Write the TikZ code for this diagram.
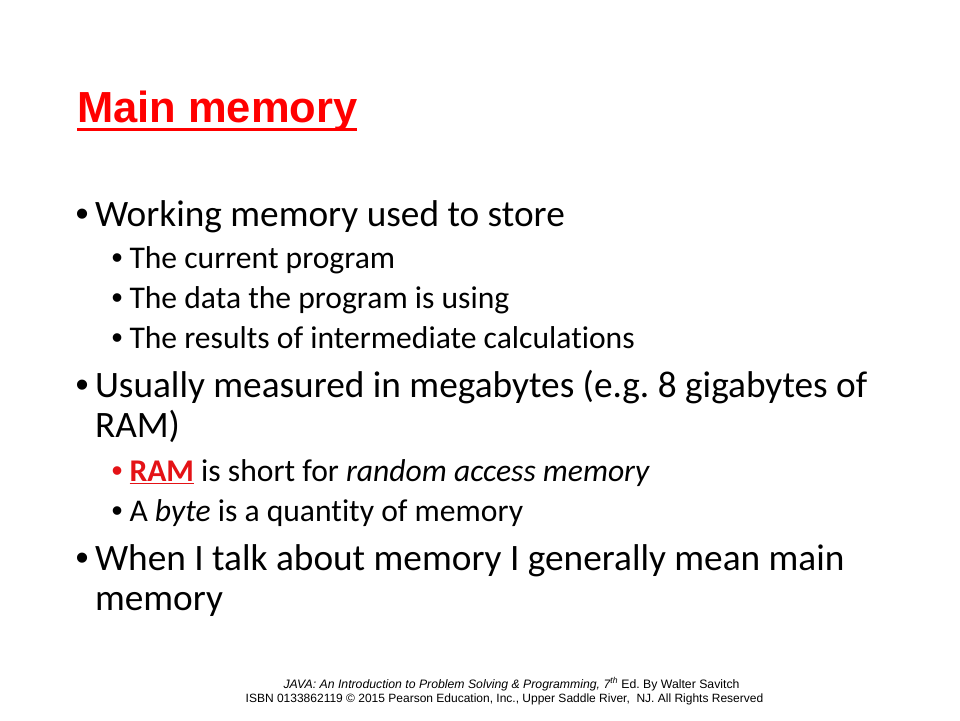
\documentclass[tikz,border=0pt]{standalone}
\usepackage{fontspec}
\setmainfont{Carlito}[Ligatures=NoCommon]
\newfontfamily\arialfont{Liberation Sans}
\definecolor{titlered}{RGB}{255,0,0}
\definecolor{ramred}{RGB}{228,18,22}
\tikzset{
  every node/.style={inner sep=0pt, outer sep=0pt, anchor=base west},
  titletext/.style={font=\arialfont\bfseries\fontsize{43.5}{48}\selectfont, text=titlered},
  lvlone/.style={font=\fontsize{37.3}{40}\selectfont},
  lvltwo/.style={font=\fontsize{31.6}{40}\selectfont},
  bulone/.style={font=\arialfont\fontsize{37.3}{40}\selectfont},
  bultwo/.style={font=\arialfont\fontsize{31.6}{40}\selectfont},
  foot/.style={font=\arialfont\fontsize{12}{14}\selectfont, anchor=base},
}
\begin{document}
\frenchspacing
\begin{tikzpicture}[x=1pt,y=-1pt]
\useasboundingbox[fill=white] (0,0) rectangle (960,720);
% title
\node[titletext] (title) at (77,122.5) {Main memory};
\draw[titlered, line width=3.6pt] ([yshift=-6.8pt]title.base west) -- ([yshift=-6.8pt]title.base east);
% bullets
\node[bulone] (b1) at (75.5,226.5) {•};
\node[lvlone] (t1) at (95,226.5) {Working memory used to store};
\node[bultwo] (b11) at (111.5,268.3) {•};
\node[lvltwo] (t11) at (129.5,268.3) {The current program};
\node[bultwo] (b12) at (111.5,308.3) {•};
\node[lvltwo] (t12) at (129.5,308.3) {The data the program is using};
\node[bultwo] (b13) at (111.5,348.3) {•};
\node[lvltwo] (t13) at (129.5,348.3) {The results of intermediate calculations};
\node[bulone] (b2) at (75.5,397) {•};
\node[lvlone] (t2) at (95,397) {Usually measured in megabytes (e.g. 8 gigabytes of};
\node[lvlone] (t2b) at (95,437) {RAM)};
\node[bultwo, text=ramred] (b21) at (111.5,481.7) {•};
\node[lvltwo] (t21) at (129.5,481.7) {{\color{ramred}\bfseries\underline{RAM}} is short for \textit{random access memory}};
\node[bultwo] (b22) at (111.5,521.7) {•};
\node[lvltwo] (t22) at (129.5,521.7) {A \textit{byte} is a quantity of memory};
\node[bulone] (b3) at (75.5,570) {•};
\node[lvlone] (t3) at (95,570) {When I talk about memory I generally mean main};
\node[lvlone] (t3b) at (95,610) {memory};
% footer
\node[foot, font=\arialfont\fontsize{12.25}{14}\selectfont] (f1) at (511.5,688) {\textit{JAVA: An Introduction to Problem Solving \& Programming, 7\textsuperscript{th}} Ed. By Walter Savitch};
\node[foot] (f2) at (504.5,702) {ISBN 0133862119 © 2015 Pearson Education, Inc., Upper Saddle River,\ \ NJ. All Rights Reserved};
\end{tikzpicture}
\end{document}
